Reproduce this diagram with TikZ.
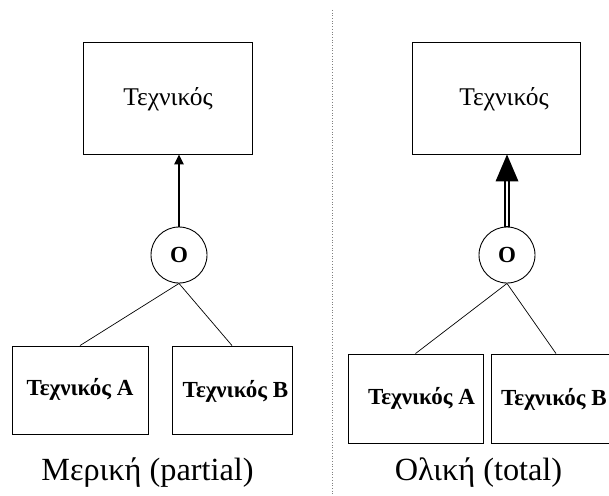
\documentclass[tikz,border=0pt]{standalone}
\usepackage{fontspec}
\setmainfont{Liberation Serif}
\usetikzlibrary{arrows.meta}
\begin{document}
\begin{tikzpicture}[x=1pt,y=-1pt,
  box/.style={draw, line width=0.9pt, rectangle, inner sep=0pt},
  orcirc/.style={draw, line width=0.9pt, circle, minimum size=56pt, inner sep=0pt, font=\fontsize{23}{23}\selectfont\bfseries},
  toptext/.style={anchor=base, inner sep=0pt, font=\fontsize{25.5}{25.5}\selectfont},
  subtext/.style={anchor=base, inner sep=0pt, font=\fontsize{23}{23}\selectfont\bfseries},
  caption/.style={anchor=base, inner sep=0pt, font=\fontsize{32.3}{32.3}\selectfont},
  thin link/.style={line width=0.7pt}
]
\useasboundingbox (0,0) rectangle (609,495);
\clip (0,0) rectangle (609,495);
% ---------- left: partial ----------
\node[box, minimum width=169pt, minimum height=112pt] (t1) at (167.5,98) {};
\node[toptext] (t1text) at (168,105) {Τεχνικός};
\node[orcirc] (c1) at (179,255) {O};
\node[box, minimum width=136pt, minimum height=88pt] (a1) at (80,390) {};
\node[subtext] (a1text) at (80,395) {Τεχνικός A};
\node[box, minimum width=120pt, minimum height=88pt] (b1) at (232,390) {};
\node[subtext] (b1text) at (235.5,397) {Τεχνικός B};
\draw[line width=2.6pt, -{Triangle[length=10pt,width=9pt]}] (c1.north) -- (c1 |- t1.south);
\draw[thin link] (c1.south) -- (a1.north);
\draw[thin link] (c1.south) -- (b1.north);
\node[caption] (cap1) at (147.5,480) {Μερική (partial)};
% ---------- separator ----------
\coordinate (s1) at (332,10);
\coordinate (s2) at (332,495);
\draw[gray, line width=0.7pt, dotted] (s1) -- (s2);
% ---------- right: total ----------
\node[box, minimum width=168pt, minimum height=112pt] (t2) at (496,98) {};
\node[toptext] (t2text) at (504,105) {Τεχνικός};
\node[orcirc] (c2) at (507,255) {O};
\node[box, minimum width=135pt, minimum height=89pt] (a2) at (415.5,398.5) {};
\node[subtext] (a2text) at (421.5,404) {Τεχνικός A};
\node[box, minimum width=130pt, minimum height=89pt] (b2) at (556,398.5) {};
\node[subtext, anchor=base west] (b2text) at (501,405) {Τεχνικός B};
\draw[line width=5.2pt] (c2.north) -- ([yshift=-20pt]c2 |- t2.south);
\draw[white, line width=2pt] ([yshift=0.5pt]c2.north) -- ([yshift=-19pt]c2 |- t2.south);
\fill (c2 |- t2.south) -- ([xshift=-11.5pt, yshift=-27pt]c2 |- t2.south) -- ([xshift=11.5pt, yshift=-27pt]c2 |- t2.south) -- cycle;
\draw[thin link] (c2.south) -- (a2.north);
\draw[thin link] (c2.south) -- (b2.north);
\node[caption] (cap2) at (478.5,480) {Ολική (total)};
\end{tikzpicture}
\end{document}
